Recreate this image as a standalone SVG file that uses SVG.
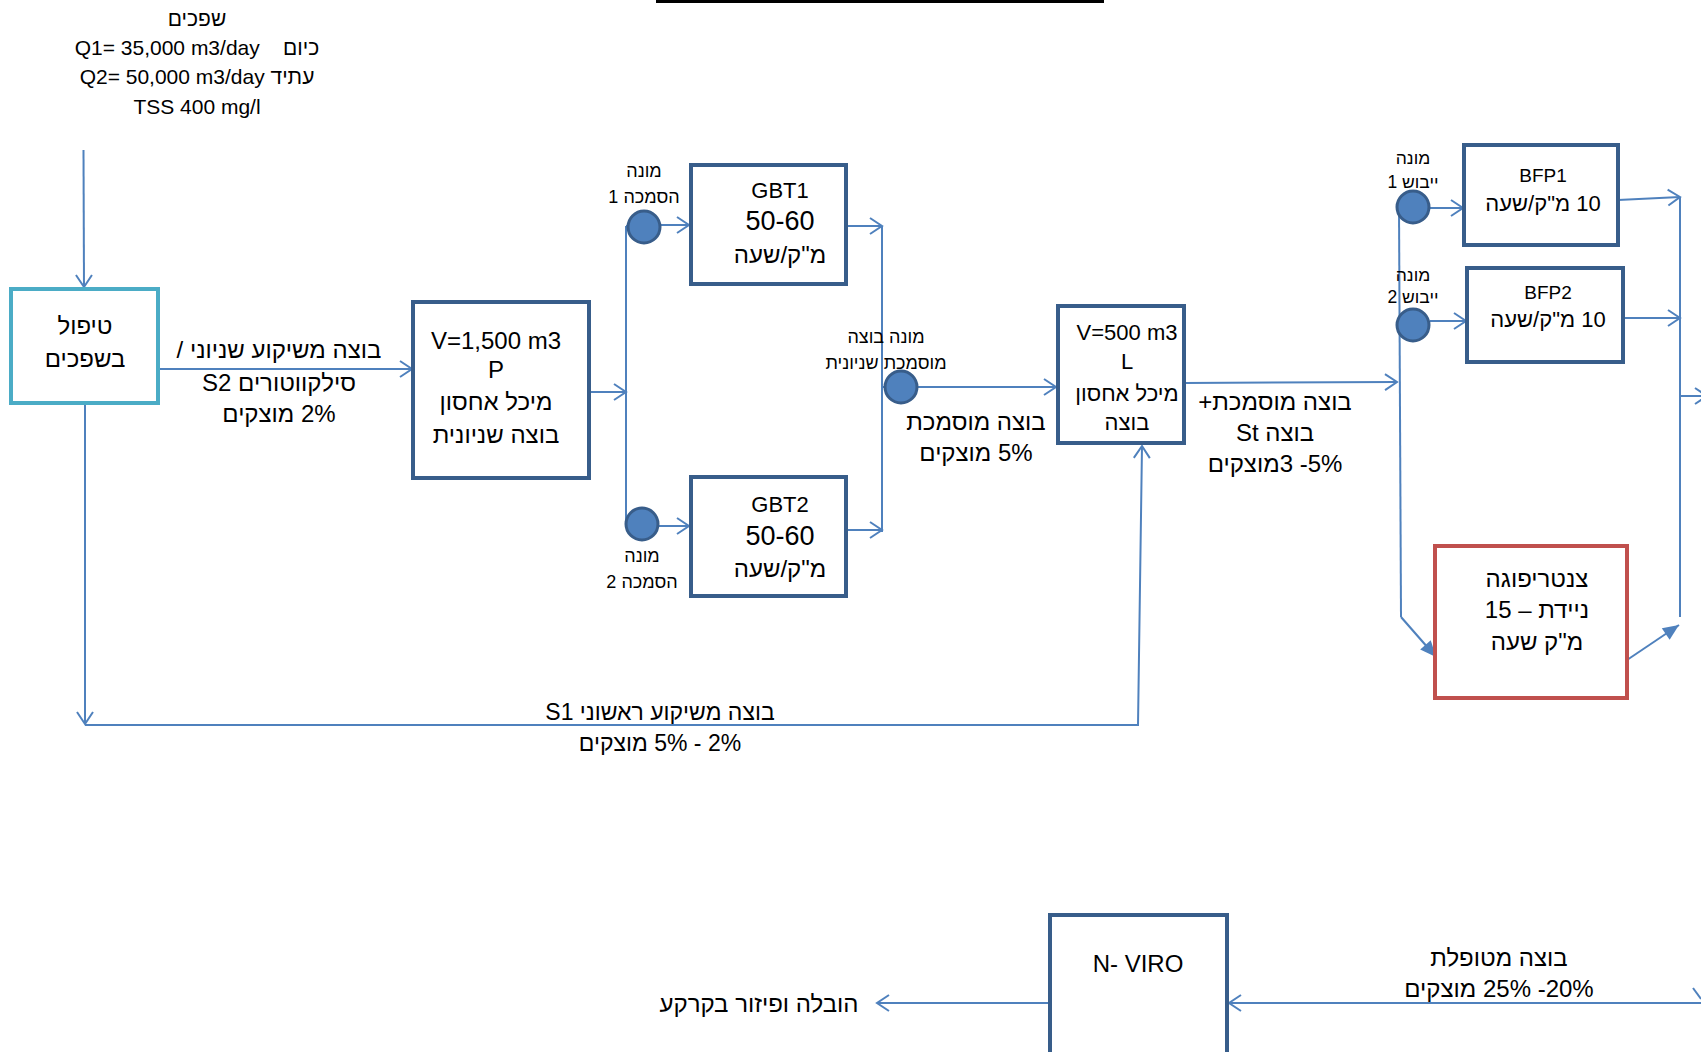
<svg xmlns="http://www.w3.org/2000/svg" width="1701" height="1052" viewBox="0 0 1701 1052">
<defs>
<style>
text{font-family:"Liberation Sans","Noto Sans",Arial,sans-serif;fill:#000;text-anchor:middle;dominant-baseline:central}
.rtl{direction:rtl;unicode-bidi:embed}
.t21{font-size:21px}.t24{font-size:24px}.t22{font-size:22px}.t23{font-size:23px}.t18{font-size:18px}.t17{font-size:17.5px}.t26{font-size:27px}.t19{font-size:19px}
.box{fill:#fff;stroke:#385D8A;stroke-width:4}
.cyan{fill:#fff;stroke:#4BACC6;stroke-width:4}
.red{fill:#fff;stroke:#C0504D;stroke-width:4}
.meter{fill:#4F81BD;stroke:#385D8A;stroke-width:3}
.ln{fill:none;stroke:#4F81BD;stroke-width:2}
.oa{marker-end:url(#open)}
.fa{marker-end:url(#fill)}
</style>
<marker id="open" markerUnits="userSpaceOnUse" markerWidth="16" markerHeight="18" refX="14" refY="9" orient="auto" overflow="visible">
<path d="M2,1 L14,9 L2,17" fill="none" stroke="#4F81BD" stroke-width="2"/>
</marker>
<marker id="fill" markerUnits="userSpaceOnUse" markerWidth="18" markerHeight="14" refX="16" refY="7" orient="auto" overflow="visible">
<path d="M0,0 L16,7 L0,14 Z" fill="#4F81BD"/>
</marker>
</defs>
<rect width="1701" height="1052" fill="#fff"/>
<rect x="656" y="0" width="448" height="3" fill="#000"/>

<g id="source">
<text class="t21 rtl" x="197" y="18">שפכים</text>
<text class="t21" x="197" y="47" xml:space="preserve">Q1= 35,000 m3/day    כיום</text>
<text class="t21" x="197" y="76">Q2= 50,000 m3/day עתיד</text>
<text class="t21" x="197" y="106">TSS 400 mg/l</text>
</g>

<g id="connectors">
<path class="ln oa" d="M83.5,150 L84,287"/>
<path class="ln oa" d="M158,369 L412,369"/>
<path class="ln oa" d="M85,403 L85,724"/>
<path class="ln oa" d="M85,725 L1138,725 L1142,446"/>
<path class="ln oa" d="M589,392 L626,392"/>
<path class="ln" d="M626,226 L626,526"/>
<path class="ln" d="M626,226 L644,226"/>
<path class="ln" d="M626,526 L642,526"/>
<path class="ln oa" d="M660,225 L689,225"/>
<path class="ln oa" d="M658,526 L689,526"/>
<path class="ln oa" d="M846,226 L882,226"/>
<path class="ln oa" d="M846,530 L882,530"/>
<path class="ln" d="M882,226 L882,532"/>
<path class="ln" d="M882,387 L901,387"/>
<path class="ln oa" d="M917,387 L1056,387"/>
<path class="ln oa" d="M1184,383 L1397,382"/>
<path class="ln" d="M1399,208 L1413,208"/>
<path class="ln" d="M1399,208 L1401,617"/>
<path class="ln fa" d="M1401,617 L1436,657"/>
<path class="ln oa" d="M1430,208 L1463,208"/>
<path class="ln oa" d="M1430,321 L1466,321"/>
<path class="ln oa" d="M1618,200 L1680,197"/>
<path class="ln oa" d="M1623,318 L1680,318"/>
<path class="ln" d="M1680,197 L1680,617"/>
<path class="ln fa" d="M1627,660 L1679,625"/>
<path class="ln oa" d="M1680,396 L1707,396"/>
<path class="ln oa" d="M1701,1003 L1229,1003"/>
<path class="ln oa" d="M1050,1003 L877,1003"/>
<path class="ln" d="M1693,988 L1701,999"/>
</g>

<g id="edge-labels">
<text class="t24 rtl" x="279" y="349">בוצה משיקוע שניוני /</text>
<text class="t24 rtl" x="279" y="382">סילקווטורים S2</text>
<text class="t24 rtl" x="279" y="413">2% מוצקים</text>
<text class="t24 rtl" x="976" y="421">בוצה מוסמכת</text>
<text class="t24 rtl" x="976" y="452">5% מוצקים</text>
<text class="t24 rtl" x="1275" y="401">בוצה מוסמכת+</text>
<text class="t24 rtl" x="1275" y="432">בוצה St</text>
<text class="t24 rtl" x="1275" y="463">5%- 3מוצקים</text>
<text class="t23 rtl" x="660" y="712">בוצה משיקוע ראשוני S1</text>
<text class="t23 rtl" x="660" y="743">2% - 5% מוצקים</text>
<text class="t24 rtl" x="1499" y="957">בוצה מטופלת</text>
<text class="t24 rtl" x="1499" y="988">20%- 25% מוצקים</text>
<text class="t24 rtl" x="759" y="1003">הובלה ופיזור בקרקע</text>
</g>

<g id="node-treatment">
<rect class="cyan" x="11" y="289" width="147" height="114"/>
<text class="t24 rtl" x="85" y="325">טיפול</text>
<text class="t24 rtl" x="85" y="358">בשפכים</text>
</g>

<g id="node-tank-p">
<rect class="box" x="413" y="302" width="176" height="176"/>
<text class="t24" x="496" y="340">V=1,500 m3</text>
<text class="t24" x="496" y="369">P</text>
<text class="t24 rtl" x="496" y="401">מיכל אחסון</text>
<text class="t24 rtl" x="496" y="434">בוצה שניונית</text>
</g>

<g id="node-meter1">
<circle class="meter" cx="644" cy="227" r="16"/>
<text class="t18 rtl" x="644" y="171">מונה</text>
<text class="t18 rtl" x="644" y="197">הסמכה 1</text>
</g>

<g id="node-meter2">
<circle class="meter" cx="642" cy="524" r="16"/>
<text class="t18 rtl" x="642" y="556">מונה</text>
<text class="t18 rtl" x="642" y="582">הסמכה 2</text>
</g>

<g id="node-gbt1">
<rect class="box" x="691" y="165" width="155" height="119"/>
<text class="t22" x="780" y="190">GBT1</text>
<text class="t26" x="780" y="221">50-60</text>
<text class="t24 rtl" x="780" y="254">מ"ק/שעה</text>
</g>

<g id="node-gbt2">
<rect class="box" x="691" y="477" width="155" height="119"/>
<text class="t22" x="780" y="504">GBT2</text>
<text class="t26" x="780" y="536">50-60</text>
<text class="t24 rtl" x="780" y="568">מ"ק/שעה</text>
</g>

<g id="node-meter3">
<circle class="meter" cx="901" cy="387" r="16"/>
<text class="t18 rtl" x="886" y="337">מונה בוצה</text>
<text class="t18 rtl" x="886" y="363">מוסמכת שניונית</text>
</g>

<g id="node-tank-l">
<rect class="box" x="1058" y="306" width="126" height="137"/>
<text class="t22" x="1127" y="332">V=500 m3</text>
<text class="t22" x="1127" y="361">L</text>
<text class="t22 rtl" x="1127" y="393">מיכל אחסון</text>
<text class="t22 rtl" x="1127" y="422">בוצה</text>
</g>

<g id="node-meter4">
<circle class="meter" cx="1413" cy="207" r="16"/>
<text class="t17 rtl" x="1413" y="158">מונה</text>
<text class="t17 rtl" x="1413" y="182">ייבוש 1</text>
</g>

<g id="node-meter5">
<circle class="meter" cx="1413" cy="325" r="16"/>
<text class="t17 rtl" x="1413" y="275">מונה</text>
<text class="t17 rtl" x="1413" y="297">ייבוש 2</text>
</g>

<g id="node-bfp1">
<rect class="box" x="1464" y="145" width="154" height="100"/>
<text class="t19" x="1543" y="175">BFP1</text>
<text class="t22 rtl" x="1543" y="203">10 מ"ק/שעה</text>
</g>

<g id="node-bfp2">
<rect class="box" x="1467" y="268" width="156" height="94"/>
<text class="t19" x="1548" y="292">BFP2</text>
<text class="t22 rtl" x="1548" y="319">10 מ"ק/שעה</text>
</g>

<g id="node-centrifuge">
<rect class="red" x="1435" y="546" width="192" height="152"/>
<text class="t24 rtl" x="1537" y="578">צנטריפוגה</text>
<text class="t24 rtl" x="1537" y="609">ניידת – 15</text>
<text class="t24 rtl" x="1537" y="641">מ"ק שעה</text>
</g>

<g id="node-nviro">
<rect class="box" x="1050" y="915" width="177" height="140"/>
<text class="t24" x="1138" y="963">N- VIRO</text>
</g>
</svg>
